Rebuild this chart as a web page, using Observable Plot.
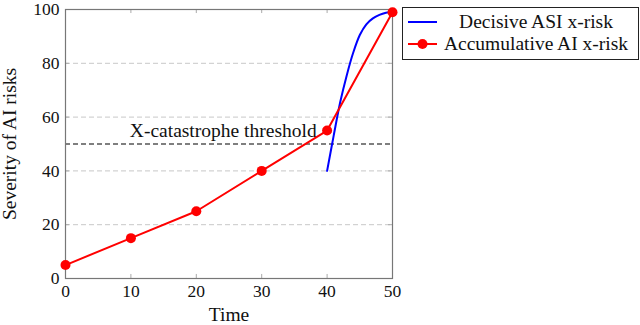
<!DOCTYPE html>
<html>
<head>
<meta charset="utf-8">
<script src="https://cdn.jsdelivr.net/npm/d3@7"></script>
<script src="https://cdn.jsdelivr.net/npm/@observablehq/plot@0.6"></script>
<style>
  html, body { margin: 0; padding: 0; background: #fff; }
  #chart { position: relative; width: 640px; height: 325px; }
</style>
</head>
<body>
<div id="chart"></div>
<script>
// ---- data ----
const accumTime = [0, 10, 20, 30, 40, 50];
const accumRisk = [5, 15, 25, 40, 55, 99];
const decisiveTime = [40, 41, 42, 43, 44, 45, 46, 47, 48, 49, 50];
const decisiveRisk = [40, 53, 65.5, 75.5, 84, 90.5, 94.5, 96.7, 98, 98.8, 99.2];
const xTicks = [0, 10, 20, 30, 40, 50];
const yTicks = [0, 20, 40, 60, 80, 100];
const gridLevels = [20, 40, 60, 80];
const threshold = 50;
const thresholdLabel = "X-catastrophe threshold";
const thresholdLabelX = 38.4;
const seriesNames = ["Decisive ASI x-risk", "Accumulative AI x-risk"];
const seriesColors = ["#0000ff", "#ff0000"];
const xLabel = "Time";
const yLabel = "Severity of AI risks";

const accum = accumTime.map((t, i) => ({t, v: accumRisk[i]}));
const decisive = decisiveTime.map((t, i) => ({t, v: decisiveRisk[i]}));

const FONT = "'Liberation Serif', 'Times New Roman', serif";
const TXT = 19.5;
const TICK = 17.5;
const tickLenX = 0.6;  // data units (~4px)
const tickLenY = 1.5;

const plot = Plot.plot({
  width: 640,
  height: 325,
  marginLeft: 65,
  marginRight: 248,
  marginTop: 9,
  marginBottom: 47,
  style: {fontFamily: FONT, fontSize: "18px", background: "white", overflow: "visible"},
  x: {domain: [0, 50]},
  y: {domain: [0, 100]},
  marks: [
    Plot.gridY(gridLevels, {stroke: "#c8c8c8", strokeOpacity: 1, strokeDasharray: "5,3", strokeWidth: 1}),
    Plot.ruleY([threshold], {stroke: "black", strokeDasharray: "5,3", strokeWidth: 1.2}),
    // inward ticks
    Plot.ruleX(xTicks.slice(1, -1), {x: d => d, y1: 0, y2: tickLenY, stroke: "#aaa"}),
    Plot.ruleX(xTicks.slice(1, -1), {x: d => d, y1: 100 - tickLenY, y2: 100, stroke: "#aaa"}),
    Plot.ruleY(yTicks.slice(1, -1), {y: d => d, x1: 0, x2: tickLenX, stroke: "#aaa"}),
    Plot.ruleY(yTicks.slice(1, -1), {y: d => d, x1: 50 - tickLenX, x2: 50, stroke: "#aaa"}),
    Plot.frame({stroke: "#777", strokeWidth: 1.2}),
    Plot.axisX({ticks: xTicks, tickSize: 0, tickPadding: 6, label: null, fontSize: TICK, fill: "#111"}),
    Plot.axisY({ticks: yTicks, tickSize: 0, tickPadding: 6, label: null, fontSize: TICK, fill: "#111"}),
    Plot.text([xLabel], {frameAnchor: "bottom", lineAnchor: "middle", dy: 36, text: d => d, fontSize: TXT, fill: "#111"}),
    Plot.text([yLabel], {frameAnchor: "left", textAnchor: "middle", dx: -56, rotate: -90, text: d => d, fontSize: TXT, fill: "#111"}),
    Plot.text([thresholdLabel], {x: thresholdLabelX, y: threshold, text: d => d, textAnchor: "end", dy: -13, fontSize: TXT, fill: "#111"}),
    Plot.line(decisive, {x: "t", y: "v", stroke: seriesColors[0], strokeWidth: 2, curve: "catmull-rom"}),
    Plot.line(accum, {x: "t", y: "v", stroke: seriesColors[1], strokeWidth: 2}),
    Plot.dot(accum, {x: "t", y: "v", fill: seriesColors[1], r: 5})
  ]
});
document.getElementById("chart").appendChild(plot);

// ---- legend inside the SVG ----
const svg = d3.select(plot);
const lg = svg.append("g").attr("font-family", FONT).attr("font-size", TXT);
lg.append("rect").attr("x", 402.5).attr("y", 7.5).attr("width", 236).attr("height", 52)
  .attr("fill", "white").attr("stroke", "#222").attr("stroke-width", 1);
seriesNames.forEach((name, i) => {
  const cy = 22 + i * 22;
  lg.append("line").attr("x1", 408).attr("x2", 437).attr("y1", cy).attr("y2", cy)
    .attr("stroke", seriesColors[i]).attr("stroke-width", 2);
  if (i === 1) lg.append("circle").attr("cx", 422.5).attr("cy", cy).attr("r", 5).attr("fill", seriesColors[i]);
  lg.append("text").attr("x", 536).attr("y", cy).attr("dy", "0.32em").attr("text-anchor", "middle")
    .attr("fill", "#111").text(name);
});
</script>
</body>
</html>
